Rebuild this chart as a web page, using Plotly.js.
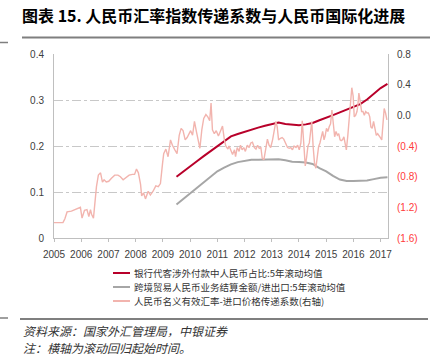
<!DOCTYPE html>
<html>
<head>
<meta charset="utf-8">
<script src="https://cdn.plot.ly/plotly-3.0.1.min.js"></script>
<style>html,body{margin:0;padding:0;background:#fff;}#chart{width:434px;height:356px;}</style>
</head>
<body>
<div id="chart"></div>
<script>
// ---- Data ----
const seriesNames = [
  "银行代客涉外付款中人民币占比:5年滚动均值",
  "跨境贸易人民币业务结算金额/进出口:5年滚动均值",
  "人民币名义有效汇率-进口价格传递系数(右轴)"
];
const yearTicks = [2005,2006,2007,2008,2009,2010,2011,2012,2013,2014,2015,2016,2017];

const smoothYears = [2009.50,2009.75,2010.00,2010.25,2010.50,2010.75,2011.00,2011.25,2011.50,2011.75,
  2012.00,2012.25,2012.50,2012.75,2013.00,2013.25,2013.50,2013.75,2014.00,2014.25,
  2014.50,2014.75,2015.00,2015.25,2015.50,2015.75,2016.00,2016.25,2016.50,2016.75,2017.00,2017.25];
const bankShare = [0.133,0.145,0.157,0.167,0.178,0.189,0.200,0.212,0.221,0.226,
  0.231,0.235,0.240,0.244,0.248,0.251,0.248,0.246,0.245,0.247,
  0.250,0.256,0.261,0.267,0.273,0.279,0.285,0.291,0.301,0.313,0.326,0.335];
const tradeShare = [0.073,0.085,0.098,0.110,0.123,0.135,0.145,0.153,0.160,0.165,
  0.168,0.170,0.170,0.170,0.171,0.171,0.169,0.166,0.165,0.164,
  0.161,0.152,0.145,0.135,0.127,0.124,0.124,0.124,0.125,0.128,0.131,0.132];

const passYears = [2005.00,2005.33,2005.40,2005.48,2005.64,2005.76,2005.88,2005.97,2006.03,2006.12,
  2006.21,2006.28,2006.34,2006.38,2006.45,2006.56,2006.63,2006.71,2006.78,2006.84,
  2006.92,2007.01,2007.11,2007.23,2007.35,2007.44,2007.54,2007.64,2007.76,2007.88,
  2007.96,2008.03,2008.10,2008.18,2008.22,2008.29,2008.36,2008.46,2008.54,2008.64,
  2008.74,2008.83,2008.91,2008.99,2009.03,2009.11,2009.19,2009.28,2009.35,2009.44,
  2009.52,2009.60,2009.67,2009.74,2009.82,2009.89,2009.96,2010.02,2010.09,2010.16,
  2010.23,2010.29,2010.36,2010.43,2010.50,2010.58,2010.65,2010.72,2010.77,2010.82,
  2010.89,2010.96,2011.04,2011.11,2011.19,2011.26,2011.31,2011.39,2011.43,2011.50,
  2011.56,2011.63,2011.67,2011.73,2011.80,2011.85,2011.91,2011.97,2012.03,2012.10,
  2012.17,2012.23,2012.29,2012.36,2012.42,2012.48,2012.54,2012.60,2012.65,2012.71,
  2012.78,2012.84,2012.90,2012.96,2013.03,2013.09,2013.15,2013.20,2013.25,2013.32,
  2013.38,2013.44,2013.51,2013.58,2013.64,2013.70,2013.76,2013.82,2013.89,2013.95,
  2014.01,2014.07,2014.12,2014.18,2014.23,2014.28,2014.33,2014.38,2014.43,2014.47,
  2014.52,2014.57,2014.62,2014.67,2014.72,2014.77,2014.82,2014.87,2014.92,2014.96,
  2015.01,2015.06,2015.11,2015.16,2015.21,2015.26,2015.31,2015.36,2015.41,2015.46,
  2015.51,2015.55,2015.60,2015.65,2015.70,2015.74,2015.79,2015.85,2015.90,2015.94,
  2015.99,2016.03,2016.08,2016.13,2016.16,2016.20,2016.25,2016.30,2016.35,2016.40,
  2016.45,2016.50,2016.55,2016.60,2016.64,2016.69,2016.74,2016.79,2016.84,2016.89,
  2016.94,2016.99,2017.04,2017.09,2017.13,2017.18,2017.23];
const passThrough = [-1.40,-1.40,-1.35,-1.26,-1.25,-1.23,-1.22,-1.20,-1.34,-1.24,
  -1.23,-1.32,-1.23,-1.29,-1.34,-0.93,-0.78,-0.75,-0.87,-0.84,
  -0.87,-0.86,-0.82,-0.78,-0.78,-0.80,-0.84,-0.81,-0.78,-0.77,
  -0.77,-0.70,-0.75,-0.90,-1.05,-1.01,-1.09,-0.99,-1.04,-0.99,
  -0.92,-0.93,-0.89,-0.62,-0.50,-0.44,-0.54,-0.32,-0.39,-0.45,
  -0.50,-0.26,-0.17,-0.20,-0.32,-0.29,-0.23,-0.20,-0.26,-0.08,
  -0.21,-0.32,-0.43,-0.19,-0.04,0.01,-0.02,-0.07,0.16,-0.19,
  -0.24,-0.20,-0.27,-0.21,-0.14,-0.32,-0.40,-0.44,-0.40,-0.46,
  -0.51,-0.45,-0.54,-0.42,-0.47,-0.39,-0.45,-0.42,-0.47,-0.39,
  -0.42,-0.36,-0.35,-0.42,-0.44,-0.39,-0.43,-0.42,-0.56,-0.58,
  -0.43,-0.31,-0.39,-0.42,-0.32,-0.21,-0.08,-0.15,-0.32,-0.30,
  -0.29,-0.31,-0.36,-0.42,-0.43,-0.42,-0.45,-0.40,-0.42,-0.39,
  -0.45,-0.36,-0.07,-0.35,-0.66,-0.55,-0.40,-0.36,-0.23,-0.08,
  -0.41,-0.62,-0.69,-0.54,-0.41,-0.36,-0.28,-0.21,-0.32,-0.27,
  -0.17,-0.21,-0.15,-0.11,0.07,-0.15,-0.28,-0.21,-0.26,-0.24,
  -0.32,-0.33,-0.32,-0.28,-0.37,-0.45,-0.28,-0.02,0.09,0.36,
  0.25,-0.02,0.00,0.05,0.12,0.29,0.18,0.05,0.05,0.00,
  0.05,0.03,0.03,-0.02,-0.15,-0.17,-0.08,-0.17,-0.26,-0.24,
  -0.26,-0.29,-0.32,-0.06,0.09,0.03,-0.06];

const rightTickVals = [0.8,0.4,0.0,-0.4,-0.8,-1.2,-1.6];
const rightTickText = ["0.8","0.4","0.0","(0.4)","(0.8)","(1.2)","(1.6)"];

// ---- Styles ----
const darkRed = "#B8002A", grey = "#A6A6A6", pink = "#F2B4AE", negRed = "#FF3B3B";
const seriesColors = [darkRed, grey, pink];
const tickFont = {family: "'Liberation Sans', Arial, sans-serif", size: 10, color: "#404040"};
const cjk = "'Noto Sans CJK SC', 'Noto Sans', sans-serif";

const traces = [
  {x: smoothYears, y: bankShare, name: seriesNames[0], type: "scatter", mode: "lines",
   line: {color: darkRed, width: 2}, yaxis: "y"},
  {x: smoothYears, y: tradeShare, name: seriesNames[1], type: "scatter", mode: "lines",
   line: {color: grey, width: 2}, yaxis: "y"},
  {x: passYears, y: passThrough, name: seriesNames[2], type: "scatter", mode: "lines",
   line: {color: pink, width: 1.4}, yaxis: "y2"}
];

const W = 334, H = 184, L = 54, T = 54;
const px = v => (v - L) / W;      // pixel -> paper coords for decorations
const py = v => (T + H - v) / H;

// legend drawn as shapes + annotations (compact row spacing like the reference)
const legendRows = [273, 287, 301];
const legendShapes = legendRows.map((r, i) => ({type: "line", xref: "paper", yref: "paper",
  x0: px(113), x1: px(130), y0: py(r), y1: py(r), line: {color: seriesColors[i], width: 2}}));
const legendAnn = legendRows.map((r, i) => ({text: seriesNames[i], xref: "paper", yref: "paper",
  x: px(133), y: py(r), xanchor: "left", yanchor: "middle", showarrow: false, borderpad: 0,
  font: {family: cjk, size: 9.5, color: "#333"}}));

const layout = {
  width: 434, height: 356,
  margin: {l: L, r: 46, t: T, b: 118, pad: 0},
  paper_bgcolor: "#fff", plot_bgcolor: "#fff",
  showlegend: false,
  title: {text: "<b>图表 15. 人民币汇率指数传递系数与人民币国际化进展</b>",
    x: 22/434, xref: "container", xanchor: "left",
    y: 1 - 16/356, yref: "container", yanchor: "middle",
    font: {family: cjk, size: 16, color: "#000"}},
  xaxis: {range: [2005, 2017.27], tickvals: yearTicks, ticktext: yearTicks.map(String),
    showgrid: false, zeroline: false, showline: true, linecolor: "#BFBFBF", linewidth: 1,
    ticks: "outside", ticklen: 3, tickcolor: "#BFBFBF", tickfont: tickFont, ticklabelstandoff: 4},
  yaxis: {range: [0, 0.4], tickvals: [0, 0.1, 0.2, 0.3, 0.4], ticktext: ["0","0.1","0.2","0.3","0.4"],
    showgrid: true, gridcolor: "#C8C8C8", griddash: "dashdot", gridwidth: 1,
    zeroline: false, showline: true, linecolor: "#BFBFBF", linewidth: 1,
    ticks: "", tickfont: tickFont, ticklabelstandoff: 7},
  yaxis2: {range: [-1.6, 0.8], overlaying: "y", side: "right",
    tickvals: rightTickVals,
    ticktext: rightTickText.map(t => t.startsWith("(") ? '<span style="color:' + negRed + '">' + t + '</span>' : t),
    showgrid: false, zeroline: false, showline: true, linecolor: "#BFBFBF", linewidth: 1,
    ticks: "", tickfont: tickFont, ticklabelstandoff: 6},
  shapes: [
    {type: "line", xref: "paper", yref: "paper", x0: px(22), x1: px(430), y0: py(37.5), y1: py(37.5),
     line: {color: "#7F7F7F", width: 2}},
    {type: "line", xref: "paper", yref: "paper", x0: px(0), x1: px(8), y0: py(42.5), y1: py(42.5),
     line: {color: "#7F7F7F", width: 1.5}},
    {type: "line", xref: "paper", yref: "paper", x0: px(20), x1: px(428), y0: py(319), y1: py(319),
     line: {color: "#7F7F7F", width: 2}},
    {type: "line", xref: "paper", yref: "paper", x0: px(0), x1: px(8), y0: py(318), y1: py(318),
     line: {color: "#7F7F7F", width: 1.5}}
  ].concat(legendShapes),
  annotations: [
    {text: "<i>资料来源：国家外汇管理局，中银证券</i>", xref: "paper", yref: "paper",
     x: px(22), y: py(330), xanchor: "left", yanchor: "middle", showarrow: false, borderpad: 0,
     font: {family: cjk, size: 12, color: "#333"}},
    {text: "<i>注：横轴为滚动回归起始时间。</i>", xref: "paper", yref: "paper",
     x: px(22), y: py(347), xanchor: "left", yanchor: "middle", showarrow: false, borderpad: 0,
     font: {family: cjk, size: 12, color: "#333"}}
  ].concat(legendAnn)
};

Plotly.newPlot("chart", traces, layout, {displayModeBar: false, staticPlot: true});
</script>
</body>
</html>
